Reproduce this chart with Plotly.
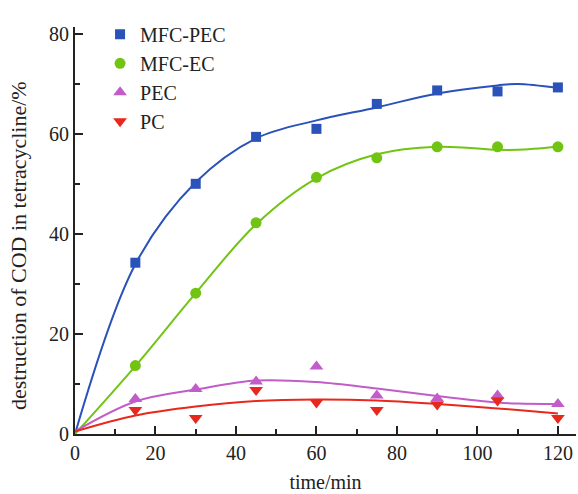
import plotly.graph_objects as go

# Measured data points
time_pts = [15, 30, 45, 60, 75, 90, 105, 120]
mfc_pec = [34.3, 50.1, 59.5, 61.1, 66.1, 68.8, 68.6, 69.4]
mfc_ec = [13.7, 28.2, 42.3, 51.4, 55.3, 57.5, 57.5, 57.5]
pec = [7.0, 9.0, 10.5, 13.5, 7.7, 7.1, 7.7, 6.0]
pc = [4.8, 3.2, 8.8, 6.3, 4.8, 5.9, 6.7, 3.2]

# Fitted curves
curve_t = [0, 15, 30, 45, 60, 75, 90, 105, 110, 120]
fit_mfc_pec = [0, 34.0, 50.4, 59.2, 62.8, 65.4, 68.2, 69.8, 70.1, 69.3]
fit_mfc_ec = [0, 13.6, 28.2, 42.0, 51.2, 56.0, 57.5, 56.9, 56.9, 57.5]
fit_pec = [0.5, 6.5, 8.9, 10.7, 10.4, 9.1, 7.6, 6.3, 6.1, 6.0]
fit_pc = [0.5, 3.7, 5.5, 6.6, 6.9, 6.7, 6.0, 5.1, 4.8, 4.1]

names = ["MFC-PEC", "MFC-EC", "PEC", "PC"]
colors = ["#2a52b8", "#72c414", "#c25cc9", "#e8281c"]
symbols = ["square", "circle", "triangle-up", "triangle-down"]
sizes = [10, 11, 12, 12]
pts = [mfc_pec, mfc_ec, pec, pc]
fits = [fit_mfc_pec, fit_mfc_ec, fit_pec, fit_pc]

fig = go.Figure()
for n, c, f in zip(names, colors, fits):
    fig.add_trace(go.Scatter(x=curve_t, y=f, mode="lines", line=dict(color=c, width=2, shape="spline", smoothing=1.0),
                             showlegend=False, hoverinfo="skip"))
for n, c, s, sz, p in zip(names, colors, symbols, sizes, pts):
    fig.add_trace(go.Scatter(x=time_pts, y=p, mode="markers", name=n,
                             marker=dict(color=c, symbol=s, size=sz, line=dict(width=0))))

font = "Liberation Serif, Times New Roman, serif"
fig.update_layout(
    width=578, height=494,
    margin=dict(l=75, r=2, t=27, b=60),
    plot_bgcolor="white", paper_bgcolor="white",
    font=dict(family=font, size=20, color="#222"),
    legend=dict(x=0.05, y=1.03, xanchor="left", yanchor="top", bgcolor="rgba(0,0,0,0)",
                font=dict(family=font, size=20, color="#222"), tracegroupgap=0, itemwidth=30),
    xaxis=dict(range=[0, 124.5], tickvals=[0, 20, 40, 60, 80, 100, 120], ticks="inside", ticklen=8,
               tickwidth=1.5, tickcolor="#222", showline=True, linecolor="#222", linewidth=2,
               showgrid=False, zeroline=False,
               minor=dict(tickvals=[10, 30, 50, 70, 90, 110], ticks="inside", ticklen=5, tickcolor="#222", tickwidth=1.5),
               title=dict(text="time/min", font=dict(family=font, size=20), standoff=12),
               tickfont=dict(family=font, size=20)),
    yaxis=dict(range=[0, 81.5], tickvals=[0, 20, 40, 60, 80], ticks="inside", ticklen=8,
               tickwidth=1.5, tickcolor="#222", showline=True, linecolor="#222", linewidth=2,
               showgrid=False, zeroline=False,
               minor=dict(tickvals=[10, 30, 50, 70], ticks="inside", ticklen=5, tickcolor="#222", tickwidth=1.5),
               tickfont=dict(family=font, size=20)),
    annotations=[dict(text="destruction of COD in tetracycline/%", textangle=-90, xref="paper", yref="paper",
                      x=-0.114, y=0.464, xanchor="center", yanchor="middle", showarrow=False,
                      font=dict(family=font, size=22, color="#222"))],
)
fig.write_html("out.html")
